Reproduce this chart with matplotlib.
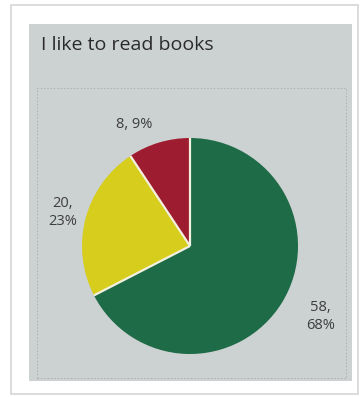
import matplotlib
matplotlib.use("Agg")
import matplotlib.pyplot as plt
from matplotlib.patches import Rectangle
import numpy as np

title = "I like to read books"
values = [58, 20, 8]
pct_labels = ["68%", "23%", "9%"]
colors = ["#1d6b47", "#d6cd1c", "#9e1c2f"]
label_dist = [1.37, 1.22, 1.24]
label_shift = [3, 0, 8]  # degrees
label_fmt = ["{v},\n{p}", "{v},\n{p}", "{v}, {p}"]

W, H = 363, 397
fig = plt.figure(figsize=(W / 100, H / 100), dpi=100)
fig.patch.set_facecolor("white")

def fx(x):
    return x / W

def fy(y):
    return 1 - y / H

# outer frame / shadow
fig.add_artist(Rectangle((fx(11), fy(394)), fx(358) - fx(11), fy(5) - fy(394),
                         transform=fig.transFigure, facecolor="white",
                         edgecolor="#d6d6d6", lw=1.2, zorder=-3))
# gray paper
fig.add_artist(Rectangle((fx(29), fy(381)), fx(352) - fx(29), fy(24) - fy(381),
                         transform=fig.transFigure, facecolor="#ccd1d2",
                         edgecolor="none", zorder=-2))
# dashed plot area
fig.add_artist(Rectangle((fx(37), fy(378)), fx(346) - fx(37), fy(88) - fy(378),
                         transform=fig.transFigure, facecolor="none",
                         edgecolor="#a9aeaf", lw=0.6, ls=(0, (2, 2)), zorder=-1))

fig.text(fx(41), fy(45), title, fontsize=14, color="#2a2a2a",
         family="Open Sans", va="center", ha="left")

cx, cy, r = 190, 246, 108
ax = fig.add_axes([fx(cx - r), fy(cy + r), fx(2 * r), fy(cy - r) - fy(cy + r)])
ax.patch.set_visible(False)
wedges, _ = ax.pie(values, colors=colors, startangle=90, counterclock=False,
                   radius=1, frame=True,
                   wedgeprops=dict(edgecolor="none", linewidth=0))
# separators between slices (no outer outline)
for w in wedges:
    a = np.deg2rad(w.theta1)
    ax.plot([0, np.cos(a)], [0, np.sin(a)], color="#f4f0e0", lw=1.6,
            solid_capstyle="butt")
ax.set_xlim(-1, 1)
ax.set_ylim(-1, 1)
ax.set_aspect("auto")
ax.axis("off")

for w, v, p, d, s, f in zip(wedges, values, pct_labels, label_dist, label_shift, label_fmt):
    ang = np.deg2rad((w.theta1 + w.theta2) / 2 + s)
    ax.text(d * np.cos(ang), d * np.sin(ang), f.format(v=v, p=p),
            ha="center", va="center", fontsize=10.5, color="#3d3d3d",
            family="Open Sans", linespacing=1.25)

fig.savefig("out.png", dpi=100)
